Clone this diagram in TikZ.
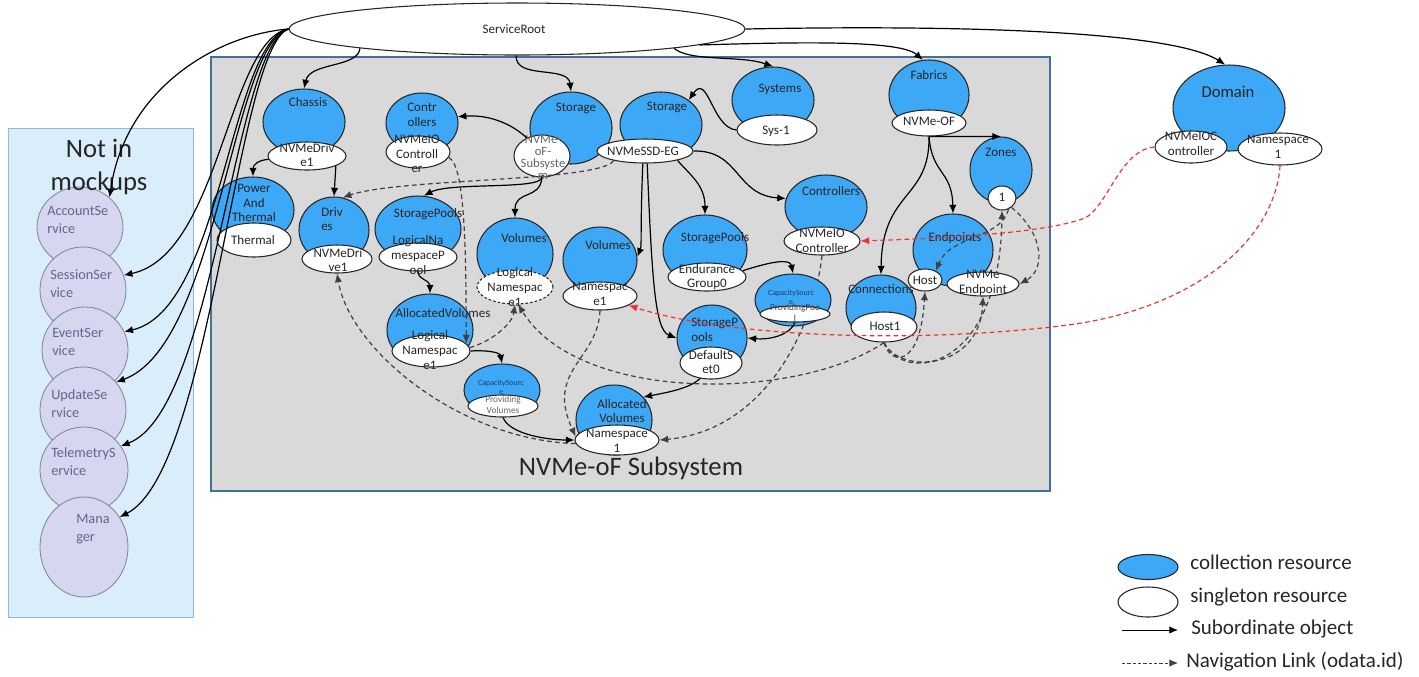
\documentclass[tikz,border=0pt]{standalone}
\usepackage{fontspec}
\setmainfont{Carlito}
\usetikzlibrary{shapes.geometric,arrows.meta,backgrounds}

\definecolor{collblue}{RGB}{61,168,245}
\definecolor{boxfill}{RGB}{217,217,217}
\definecolor{boxline}{RGB}{65,113,156}
\definecolor{panelfill}{RGB}{218,237,251}
\definecolor{panelline}{RGB}{140,185,225}
\definecolor{lavfill}{RGB}{214,214,240}
\definecolor{lavline}{RGB}{125,130,150}
\definecolor{lavtext}{RGB}{95,105,135}
\definecolor{navred}{RGB}{240,50,50}
\definecolor{capblue}{RGB}{30,60,110}

\tikzset{
  coll/.style 2 args={ellipse, draw=black!85, line width=0.8pt, fill=collblue, minimum width=#1*1.5pt, minimum height=#2*1.5pt, inner sep=0pt},
  sngl/.style 2 args={ellipse, draw=black!85, line width=0.8pt, fill=white, minimum width=#1*1.5pt, minimum height=#2*1.5pt, inner sep=0pt},
  notmock/.style 2 args={ellipse, draw=lavline, line width=0.6pt, fill=lavfill, minimum width=#1*1.5pt, minimum height=#2*1.5pt, inner sep=0pt},
  lbl/.style={inner sep=0pt, align=center, text=black!85, font=\fontsize{9.75}{11}\selectfont},
  lavlbl/.style={inner sep=0pt, anchor=west, align=left, text=lavtext, font=\fontsize{10.7}{13.5}\selectfont},
  caplbl/.style={inner sep=0pt, align=center, text=capblue, font=\fontsize{6}{6.5}\selectfont},
  provlbl/.style={inner sep=0pt, align=center, text=black!60, font=\fontsize{7}{8.25}\selectfont},
  ttl/.style={inner sep=0pt, align=center, text=black!85, font=\fontsize{20}{24.75}\selectfont},
  lgd/.style={inner sep=0pt, anchor=west, text=black!85, font=\fontsize{15.75}{18}\selectfont},
  subarr/.style={line width=0.9pt, -{Latex[length=6.5pt,width=5.5pt]}},
  navarr/.style={subarr, draw=black!75, dash pattern=on 3.5pt off 2.5pt},
  rednav/.style={navarr, draw=navred},
}

\begin{document}
\begin{tikzpicture}[x=0.75pt,y=0.75pt,yscale=-1,xscale=1]
\useasboundingbox (0,0) rectangle (1419,676);

%Panels
\begin{scope}[on background layer]
\draw[draw=panelline, fill=panelfill, line width=0.6pt] (8,128) rectangle (193,617);
\draw[draw=boxline, fill=boxfill, line width=0.8pt] (211,57) rectangle (1050,491);
\end{scope}

%Not in mockups
\node[notmock={43}{40}] (acct) at (80,227) {};
\node[lavlbl] (acct-t) at (47,220) {AccountSe\\rvice};
\node[notmock={43}{43}] (sess) at (83,290) {};
\node[lavlbl] (sess-t) at (50,284) {SessionSer\\vice};
\node[notmock={43}{43}] (evt) at (85,350) {};
\node[lavlbl] (evt-t) at (52,342) {EventSer\\vice};
\node[notmock={43}{43}] (upd) at (83,410) {};
\node[lavlbl] (upd-t) at (51,404) {UpdateSe\\rvice};
\node[notmock={44}{43}] (telem) at (84,470) {};
\node[lavlbl] (telem-t) at (51,462) {TelemetryS\\ervice};
\node[notmock={44}{50}] (mgr) at (84,547) {};
\node[lavlbl] (mgr-t) at (76,529) {Mana\\ger};

% Text Node
\node[ttl] (notin) at (99,167) {Not in\\mockups};
\node[ttl] (oftitle) at (631,468) {NVMe-oF Subsystem};

%ServiceRoot
\node[sngl={228}{26}] (sr) at (517,29) {};
\node[lbl] (sr-t) at (514,29) {ServiceRoot};

%Chassis
\node[coll={41}{33}] (chassis) at (304,122) {};
\node[lbl] (chassis-t) at (308,102) {Chassis};
\node[sngl={39}{14}] (drv1) at (307,156) {};
\node[lbl] (drv1-t) at (307,155) {NVMeDriv\\e1};

%Controllers
\node[coll={36}{30}] (ctrlA) at (422,123) {};
\node[lbl] (ctrlA-t) at (422,115) {Contr\\ollers};
\node[sngl={32}{16}] (nvmeio1) at (418,152) {};
\node[lbl] (nvmeio1-t) at (417,154) {NVMeIO\\Controll\\er};

%Storage
\node[coll={41}{36}] (storA) at (571,128) {};
\node[lbl] (storA-t) at (576,108) {Storage};
\node[sngl={28}{21}] (subsys) at (542,156) {};
\node[lbl, text=black!60, font=\fontsize{9.5}{9}\selectfont] (subsys-t) at (543,157) {NVMe-\\oF-\\Subsyste\\m};

\node[coll={41}{33}] (storB) at (661,125) {};
\node[lbl] (storB-t) at (667,107) {Storage};
\node[sngl={48}{12}] (ssdeg) at (645,151) {};
\node[lbl] (ssdeg-t) at (643,151) {NVMeSSD-EG};

%Systems
\node[coll={41}{33}] (sys) at (773,100) {};
\node[lbl] (sys-t) at (780,89) {Systems};
\node[sngl={40}{15}] (sys1) at (777,130) {};
\node[lbl] (sys1-t) at (776,131) {Sys-1};

%Fabrics
\node[coll={40}{35}] (fab) at (929,95) {};
\node[lbl] (fab-t) at (929,75) {Fabrics};
\node[sngl={37}{13}] (nvmeof) at (929,123) {};
\node[lbl] (nvmeof-t) at (929,121) {NVMe-OF};

\node[coll={31}{33}] (zones) at (1001,170) {};
\node[lbl] (zones-t) at (1001,152) {Zones};
\node[sngl={14}{12}] (zone1) at (1002,198) {};
\node[lbl] (zone1-t) at (1002,197) {1};

\node[coll={41}{32}] (ctrlB) at (826,207) {};
\node[lbl] (ctrlB-t) at (831,191) {Controllers};
\node[sngl={38}{14}] (nvmeio2) at (822,241) {};
\node[lbl] (nvmeio2-t) at (822,241) {NVMeIO\\Controller};

\node[coll={40}{36}] (endp) at (953,250) {};
\node[lbl] (endp-t) at (955,238) {Endpoints};
\node[sngl={17}{11}] (host) at (925,280) {};
\node[lbl] (host-t) at (925,280) {Host};
\node[sngl={36}{12}] (nvmeep) at (983,284) {};
\node[lbl] (nvmeep-t) at (983,283) {NVMe\\Endpoint};

\node[coll={35}{33}] (conn) at (881,308) {};
\node[lbl] (conn-t) at (881,289) {Connections};
\node[sngl={33}{15}] (host1) at (884,327) {};
\node[lbl] (host1-t) at (885,326) {Host1};

%Power and drives
\node[coll={41}{33}] (power) at (253,210) {};
\node[lbl] (power-t) at (254,203) {Power\\And\\Thermal};
\node[sngl={37}{17}] (thermal) at (254,240) {};
\node[lbl] (thermal-t) at (253,240) {Thermal};

\node[coll={35}{33}] (drives) at (334,230) {};
\node[lbl, anchor=west, align=left] (drives-t) at (321,219) {Driv\\es};
\node[sngl={35}{14}] (drv2) at (337,259) {};
\node[lbl] (drv2-t) at (338,260) {NVMeDri\\ve1};

%Pools and volumes
\node[coll={43}{33}] (poolA) at (418,229) {};
\node[lbl] (poolA-t) at (428,214) {StoragePools};
\node[sngl={39}{14}] (lnpool) at (418,257) {};
\node[lbl] (lnpool-t) at (418,255) {LogicalNa\\mespaceP\\ool};

\node[coll={38}{36}] (volA) at (515,254) {};
\node[lbl] (volA-t) at (524,238) {Volumes};
\node[sngl={38}{17}, dash pattern=on 2pt off 1.5pt] (lns1) at (515,287) {};
\node[lbl] (lns1-t) at (515,287) {Logical\\Namespac\\e1};

\node[coll={37}{33}] (volB) at (600,260) {};
\node[lbl] (volB-t) at (608,245) {Volumes};
\node[sngl={37}{14}] (ns1) at (600,296) {};
\node[lbl] (ns1-t) at (600,294) {Namespac\\e1};

\node[coll={43}{36}] (allocA) at (430,330) {};
\node[lbl] (allocA-t) at (443,313) {AllocatedVolumes};
\node[sngl={39}{16}] (lns2) at (431,351) {};
\node[lbl] (lns2-t) at (430,350) {Logical\\Namespac\\e1};

\node[coll={38}{26}] (capA) at (502,390) {};
\node[caplbl] (capA-t) at (501,387) {CapacitySourc\\e};
\node[sngl={35}{11}] (provvol) at (503,406) {};
\node[provlbl] (provvol-t) at (503,405) {Providing\\Volumes};

\node[coll={38}{35}] (allocB) at (614,420) {};
\node[lbl] (allocB-t) at (622,411) {Allocated\\Volumes};
\node[sngl={42}{15}] (ns2) at (617,440) {};
\node[lbl] (ns2-t) at (617,441) {Namespace\\1};

\node[coll={42}{35}] (poolB) at (705,250) {};
\node[lbl] (poolB-t) at (715,238) {StoragePools};
\node[sngl={39}{14}] (eg0) at (707,277) {};
\node[lbl] (eg0-t) at (707,277) {Endurance\\Group0};

\node[coll={38}{26}] (capB) at (793,300) {};
\node[caplbl] (capB-t) at (791,297) {CapacitySourc\\e};
\node[sngl={35}{8}] (provpool) at (795,314) {};
\node[provlbl, text=black!75] (provpool-t) at (795,313) {ProvidingPoo\\l};

\node[coll={35}{33}] (poolC) at (712,338) {};
\node[lbl, anchor=west, align=left] (poolC-t) at (691,330) {StorageP\\ools};
\node[sngl={31}{16}] (defset) at (711,363) {};
\node[lbl] (defset-t) at (711,362) {DefaultS\\et0};

%Domain
\node[coll={56}{43}] (domain) at (1229,108) {};
\node[lbl, font=\fontsize{12.5}{14}\selectfont] (domain-t) at (1228,92) {Domain};
\node[sngl={36}{16}] (dnvmeio) at (1191,147) {};
\node[lbl] (dnvmeio-t) at (1191,144) {NVMeIOC\\ontroller};
\node[sngl={42}{16}] (dns) at (1280,149) {};
\node[lbl] (dns-t) at (1278,147) {Namespace\\1};

%Links behind the nodes
\begin{scope}[on background layer]
\draw[navarr] (nvmeio2.south) .. controls (815,320) and (770,430) .. (ns2.east);
\draw[navarr] (host1.south) .. controls (905,385) and (1000,370) .. (zone1.south);
\end{scope}

%Subordinate objects
\draw[subarr] (sr.west) .. controls (215,35) and (125,90) .. (acct.45);
\draw[subarr] (sr.west) .. controls (228,40) and (220,255) .. (sess.20);
\draw[subarr] (sr.west) .. controls (230,42) and (222,310) .. (evt.25);
\draw[subarr] (sr.west) .. controls (232,44) and (218,345) .. (upd.40);
\draw[subarr] (sr.west) .. controls (234,46) and (215,410) .. (telem.33);
\draw[subarr] (sr.west) .. controls (236,48) and (212,470) .. (mgr.40);
\draw[subarr] (sr.187) .. controls (358,68) and (310,62) .. (chassis.north);
\draw[subarr] (sr.268) .. controls (515,80) and (568,65) .. (storA.north);
\draw[subarr] (sr.-7.6) .. controls (690,62) and (740,55) .. (sys.north);
\draw[subarr] (sr.-5) .. controls (800,42) and (900,40) .. (fab.100);
\draw[subarr] (sr.east) .. controls (950,25) and (1170,30) .. (domain.95);
\draw[subarr] (drv1.185) .. controls (258,160) and (253,165) .. (power.north);
\draw[subarr] (drv1.-19) -- (drives.north);
\draw[subarr] (subsys.130) .. controls (505,118) and (480,115) .. (ctrlA.10);
\draw[subarr] (subsys.south) .. controls (540,190) and (450,182) .. (poolA.80);
\draw[subarr] (subsys.south) .. controls (540,200) and (515,190) .. (volA.north);
\draw[subarr] (sys1.west) .. controls (712,128) and (708,72) .. (storB.42);
\draw[subarr] (nvmeof.south) -- (zones.north);
\draw[subarr] (nvmeof.south) .. controls (932,175) and (952,170) .. (endp.north);
\draw[subarr] (nvmeof.south) .. controls (930,200) and (882,190) .. (conn.north);
\draw[subarr] (ssdeg.east) .. controls (740,150) and (735,195) .. (ctrlB.168);
\draw[subarr] (ssdeg.-16) .. controls (690,175) and (705,185) .. (poolB.north);
\draw[subarr] (ssdeg.-100) .. controls (640,235) and (642,245) .. (volB.5);
\draw[subarr] (ssdeg.-80) .. controls (652,280) and (655,330) .. (poolC.west);
\draw[subarr] (eg0.10) .. controls (770,262) and (790,258) .. (capB.north);
\draw[subarr] (provpool.south) .. controls (790,335) and (770,340) .. (poolC.east);
\draw[subarr] (defset.235) .. controls (690,388) and (670,392) .. (allocB.38);
\draw[subarr] (lnpool.south) .. controls (418,280) and (430,280) .. (allocA.north);
\draw[subarr] (lns2.east) .. controls (485,350) and (500,352) .. (capA.north);
\draw[subarr] (provvol.south) .. controls (510,435) and (550,440) .. (ns2.west);

%Navigation links
\draw[navarr] (ssdeg.197) .. controls (600,182) and (400,178) .. (drives.75);
\draw[navarr] (nvmeio1.-10) .. controls (465,165) and (466,250) .. (lns2.12);
\draw[navarr] (lns2.5) .. controls (490,342) and (512,325) .. (lns1.south);
\draw[navarr] (host1.south) .. controls (800,400) and (580,405) .. (lns1.-80);
\draw[navarr] (ns1.south) .. controls (598,360) and (545,370) .. (ns2.175);
\draw[navarr] (ns2.185) .. controls (460,440) and (350,350) .. (drv2.south);
\draw[navarr] (host1.south) .. controls (890,365) and (920,370) .. (host.south);
\draw[navarr] (host1.south) .. controls (900,375) and (980,370) .. (nvmeep.south);
\draw[navarr] (zone1.-60) .. controls (1000,240) and (950,235) .. (host.40);
\draw[navarr] (zone1.-45) .. controls (1045,235) and (1045,270) .. (nvmeep.east);
\draw[rednav] (dnvmeio.west) .. controls (1120,150) and (1108,206) .. (1085,218) .. controls (1045,233) and (950,238) .. (nvmeio2.east);
\draw[rednav] (dns.south) .. controls (1276,235) and (1200,310) .. (1060,326) .. controls (900,345) and (720,335) .. (ns1.-18);

%Legend
\node[coll={30}{12.5}] (lg-coll) at (1148,567) {};
\node[lgd] (lg-coll-t) at (1190,562) {collection resource};
\node[sngl={30}{15}] (lg-sngl) at (1148,602) {};
\node[lgd] (lg-sngl-t) at (1190,597) {singleton resource};
\coordinate (lg-s1) at (1122,630);
\coordinate (lg-s2) at (1178,630);
\draw[subarr, line width=0.7pt] (lg-s1) -- (lg-s2);
\node[lgd] (lg-sub-t) at (1191,629) {Subordinate object};
\coordinate (lg-n1) at (1122,663);
\coordinate (lg-n2) at (1178,663);
\draw[navarr, line width=0.7pt, dash pattern=on 2.5pt off 1.5pt] (lg-n1) -- (lg-n2);
\node[lgd] (lg-nav-t) at (1186,662) {Navigation Link (odata.id)};

\end{tikzpicture}
\end{document}
